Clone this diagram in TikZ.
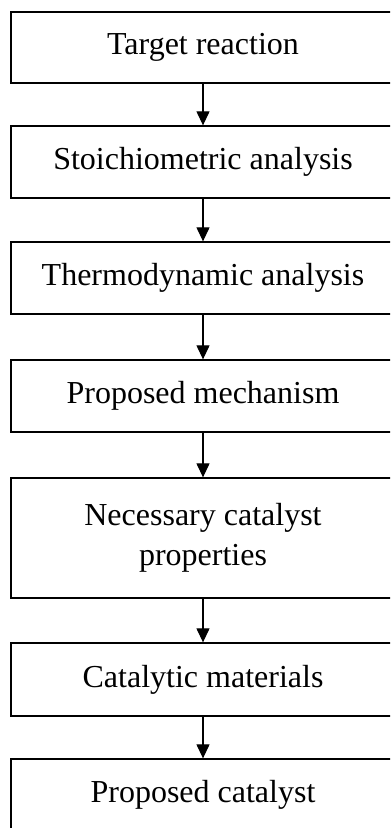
\documentclass[tikz,border=0pt]{standalone}
\usepackage{fontspec}
\setmainfont{Liberation Serif}
\usetikzlibrary{arrows.meta}

\tikzset{
  stage/.style={draw, line width=0.65pt, minimum width=192pt, inner sep=0pt,
    align=center, font=\fontsize{16}{20}\selectfont},
  flow/.style={line width=0.6pt, -{Triangle[width=6.5pt,length=7pt]}}
}

\begin{document}
\begin{tikzpicture}[x=0.5pt, y=-0.5pt]

\useasboundingbox (0,0) rectangle (390,828);
\clip (0,0) rectangle (390,828);

\node[stage, minimum height=35.5pt] (target) at (203,47.5) {Target reaction};
\node[stage, minimum height=36pt] (stoich) at (203,162) {Stoichiometric analysis};
\node[stage, minimum height=36pt] (thermo) at (203,278) {Thermodynamic analysis};
\node[stage, minimum height=36pt] (mech) at (203,396) {Proposed mechanism};
\node[stage, minimum height=60pt] (props) at (203,538) {Necessary catalyst\\properties};
\node[stage, minimum height=36.5pt] (mater) at (203,679.5) {Catalytic materials};
\node[stage, minimum height=36pt] (cat) at (203,795) {Proposed catalyst};

\foreach \a/\b in {target/stoich,stoich/thermo,thermo/mech,mech/props,props/mater,mater/cat}
  \draw[flow] (\a) -- (\b);

\end{tikzpicture}
\end{document}
